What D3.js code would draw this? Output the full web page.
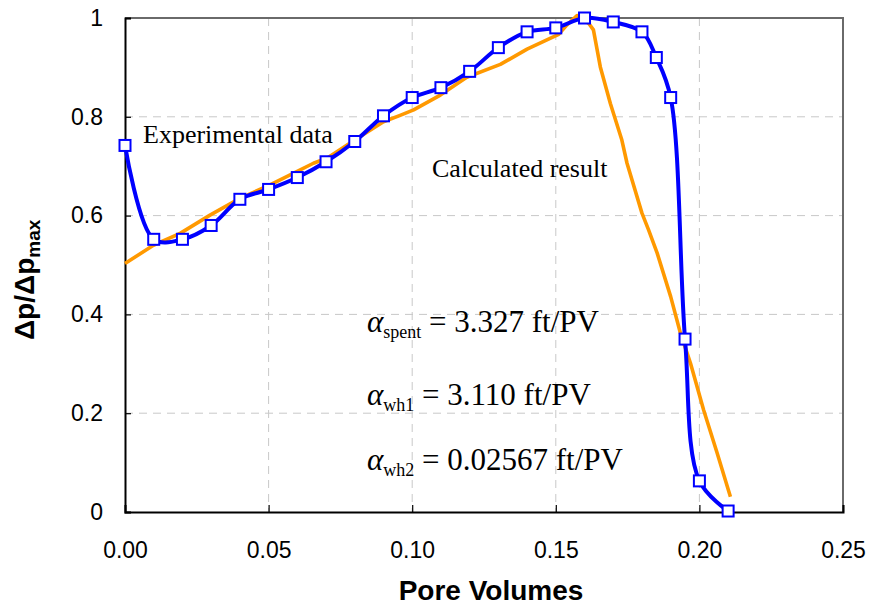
<!DOCTYPE html>
<html>
<head>
<meta charset="UTF-8">
<title>Pressure drop vs pore volumes</title>
<style>
  body { margin: 0; background: white; }
  .tick text { font-family: "Liberation Sans", Arial, sans-serif; font-size: 23px; fill: black; }
  .grid line { stroke: #c8c8c8; stroke-width: 1; stroke-dasharray: 8,6; }
  .note { font-family: "Liberation Serif", "Times New Roman", serif; fill: black; }
</style>
</head>
<body>
<svg id="chart" width="875" height="606"></svg>
<script src="https://cdnjs.cloudflare.com/ajax/libs/d3/7.8.5/d3.min.js"></script>
<script>

// experimental data (blue squares)
let expX = [0, 0.01, 0.02, 0.03, 0.04, 0.05, 0.06, 0.07, 0.08, 0.09, 0.10, 0.11, 0.12,
            0.13, 0.14, 0.15, 0.16, 0.17, 0.18, 0.185, 0.19, 0.195, 0.20, 0.21];
let expY = [0.742, 0.552, 0.552, 0.580, 0.633, 0.653, 0.677, 0.709, 0.750, 0.802, 0.839, 0.859, 0.892,
            0.940, 0.972, 0.980, 1.000, 0.992, 0.972, 0.920, 0.839, 0.350, 0.063, 0.002];

// calculated result (orange line)
let calcX = [0, 0.0099, 0.0192, 0.0296, 0.040, 0.0505, 0.0598, 0.0656, 0.0703, 0.080, 0.090, 0.0958,
             0.1005, 0.1098, 0.119, 0.1307, 0.140, 0.151, 0.1539, 0.1574, 0.1615, 0.1631, 0.1655,
             0.169, 0.173, 0.1748, 0.180, 0.1823, 0.1853, 0.190, 0.1934, 0.1969, 0.2015, 0.2062, 0.2108];
let calcY = [0.503, 0.540, 0.564, 0.601, 0.635, 0.662, 0.689, 0.706, 0.716, 0.753, 0.790, 0.803,
             0.814, 0.844, 0.880, 0.906, 0.937, 0.967, 0.986, 1.005, 0.989, 0.976, 0.901,
             0.827, 0.753, 0.706, 0.605, 0.571, 0.524, 0.436, 0.362, 0.301, 0.206, 0.119, 0.031];

let xTicks = [0, 0.05, 0.10, 0.15, 0.20, 0.25];
let yTicks = [0, 0.2, 0.4, 0.6, 0.8, 1];

let alphaNames = ["spent", "wh1", "wh2"];
let alphaValues = ["3.327", "3.110", "0.02567"];

let margin = {left: 125, top: 18, right: 32, bottom: 94};
let width = 875 - margin.left - margin.right,
    height = 606 - margin.top - margin.bottom;

let svg = d3.select("#chart");
let g = svg.append("g").attr("transform", `translate(${margin.left},${margin.top})`);

let x = d3.scaleLinear().domain([0, 0.25]).range([0, width]);
let y = d3.scaleLinear().domain([0, 1]).range([height, 0]);

// grid
g.append("g").attr("class", "grid")
  .selectAll("line").data(xTicks.slice(1, -1)).enter().append("line")
  .attr("x1", d => x(d)).attr("x2", d => x(d)).attr("y1", 0).attr("y2", height);
g.append("g").attr("class", "grid")
  .selectAll("line").data(yTicks.slice(1, -1)).enter().append("line")
  .attr("x1", 0).attr("x2", width).attr("y1", d => y(d)).attr("y2", d => y(d));

// top / right frame
g.append("path")
  .attr("d", `M0,0H${width}V${height}`)
  .attr("fill", "none").attr("stroke", "#6a6a6a").attr("stroke-width", 2);

// axes (ticks pointing inward)
let xAxis = g.append("g").attr("transform", `translate(0,${height})`)
  .call(d3.axisBottom(x).tickValues(xTicks).tickSize(-7).tickPadding(30).tickFormat(d3.format(".2f")));
let yAxis = g.append("g")
  .call(d3.axisLeft(y).tickValues(yTicks).tickSize(-6).tickPadding(22)
    .tickFormat(d => (d === 0 || d === 1) ? d : d.toFixed(1)));
[xAxis, yAxis].forEach(a => {
  a.select(".domain").attr("stroke", "black").attr("stroke-width", 2);
  a.selectAll(".tick line").attr("stroke", "black").attr("stroke-width", 1.2);
});
xAxis.selectAll(".tick text").attr("dy", "0.71em");

// calculated line
let calc = calcX.map((d, i) => [d, calcY[i]]);
g.append("path").datum(calc)
  .attr("fill", "none").attr("stroke", "#ff9900").attr("stroke-width", 3.6)
  .attr("stroke-linejoin", "round")
  .attr("d", d3.line().x(d => x(d[0])).y(d => y(d[1])));

// experimental smooth line + markers
let exp = expX.map((d, i) => [d, expY[i]]);
g.append("path").datum(exp)
  .attr("fill", "none").attr("stroke", "#0000ff").attr("stroke-width", 4)
  .attr("d", d3.line().curve(d3.curveCatmullRom.alpha(0.5)).x(d => x(d[0])).y(d => y(d[1])));
g.selectAll("rect.pt").data(exp).enter().append("rect")
  .attr("class", "pt")
  .attr("x", d => x(d[0]) - 5.5).attr("y", d => y(d[1]) - 5.5)
  .attr("width", 11).attr("height", 11)
  .attr("fill", "white").attr("stroke", "#0000ff").attr("stroke-width", 2);

// annotations
svg.append("text").attr("class", "note").attr("x", 143).attr("y", 143)
  .attr("font-size", 26).text("Experimental data");
svg.append("text").attr("class", "note").attr("x", 432).attr("y", 177)
  .attr("font-size", 26).text("Calculated result");

let baselines = [332, 405, 470];
alphaNames.forEach((n, i) => {
  let t = svg.append("text").attr("class", "note")
    .attr("x", 367).attr("y", baselines[i]).attr("font-size", 31);
  t.append("tspan").attr("font-style", "italic").text("α");
  t.append("tspan").attr("font-size", 18).attr("dy", 6).text(n);
  t.append("tspan").attr("dy", -6).text(" = " + alphaValues[i] + " ft/PV");
});

// axis titles
svg.append("text")
  .attr("x", 491).attr("y", 600)
  .attr("text-anchor", "middle")
  .style("font-family", "Liberation Sans, Arial, sans-serif")
  .style("font-weight", "bold").style("font-size", "28px")
  .text("Pore Volumes");

let yt = svg.append("text")
  .attr("transform", "translate(34,340) rotate(-90)")
  .style("font-family", "Liberation Sans, Arial, sans-serif")
  .style("font-weight", "bold").style("font-size", "28px");
yt.append("tspan").text("Δp/Δp");
yt.append("tspan").attr("dy", 6).style("font-size", "19px").text("max");

</script>
</body>
</html>
